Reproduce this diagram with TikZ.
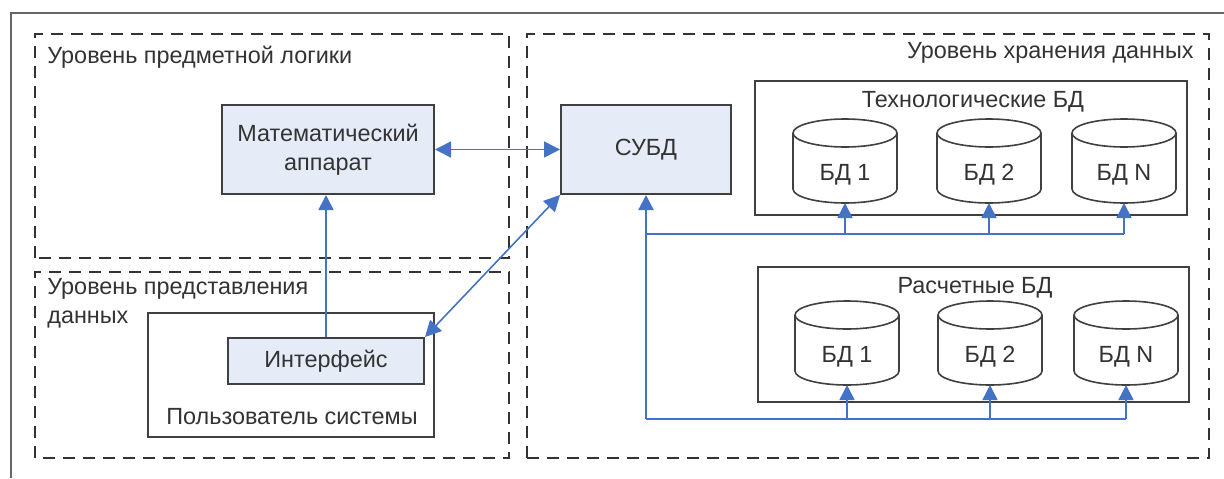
\documentclass[tikz,border=0pt]{standalone}
\usepackage{fontspec}
\setmainfont{Liberation Sans}
\usetikzlibrary{arrows.meta}

\definecolor{boxfill}{RGB}{229,235,247}
\definecolor{linkblue}{RGB}{68,114,196}

\begin{document}
\begin{tikzpicture}[x=0.5pt, y=0.5pt,
    txt/.style={font=\fontsize{11.7}{14.5}\selectfont, text=black!80},
    zone/.style={draw=black!80, line width=1.2pt, dash pattern=on 6pt off 4pt},
    block/.style={draw=black!75, line width=1pt, fill=boxfill, inner sep=0pt,
                  txt, align=center},
    panel/.style={draw=black!75, line width=1pt, fill=white, inner sep=0pt},
    dbnode/.style={inner sep=0pt, outer sep=0pt, minimum width=52pt,
                   minimum height=28pt, txt},
    dbline/.style={draw=black!75, line width=0.8pt},
    link/.style={linkblue, line width=0.8pt},
    linkarrow/.style={link, -{Triangle[length=7.5pt, width=7.5pt]}},
    linkboth/.style={link, {Triangle[length=8pt, width=8pt]}-{Triangle[length=8pt, width=8pt]}},
    bus/.style={linkblue, line width=1.1pt},
]
\useasboundingbox (0,0) rectangle (1224,478);

% Outer frame (cut off at the right and bottom)
\draw[black!60, line width=1pt] (11,0) -- (11,465) -- (1224,465);

% Levels
\draw[zone] (35,220) rectangle (509,444);
\draw[zone] (35,20) rectangle (509,206);
\draw[zone] (527,20) rectangle (1209,444);
\node[txt, anchor=west, inner sep=0pt] (lvlLogic) at (47,421) {Уровень предметной логики};
\node[txt, anchor=west, inner sep=0pt, align=left] (lvlView) at (47,175) {Уровень представления\\данных};
\node[txt, anchor=east, inner sep=0pt] (lvlStore) at (1194,425) {Уровень хранения данных};

% Blocks
\node[block, minimum width=106pt, minimum height=44.5pt] (math) at (328,328.5) {Математический\\аппарат};
\node[block, minimum width=85pt, minimum height=44.5pt] (dbms) at (646,328.5) {СУБД};
\node[panel, minimum width=143pt, minimum height=62pt] (user) at (291,103) {};
\node[txt] (userLbl) at (292,61) {Пользователь системы};
\node[block, minimum width=98pt, minimum height=23pt] (iface) at (326,117) {Интерфейс};

% Database groups
\node[panel, minimum width=216pt, minimum height=67pt] (techGrp) at (971,330) {};
\node[txt] (techLbl) at (973,376) {Технологические БД};
\node[panel, minimum width=215.5pt, minimum height=67.5pt] (calcGrp) at (973.5,143.5) {};
\node[txt] (calcLbl) at (975,190) {Расчетные БД};

% Databases (text sits in the body, cylinder drawn round it)
\node[dbnode] (t1) at (845,303) {БД 1};
\node[dbnode] (t2) at (989,303) {БД 2};
\node[dbnode] (tN) at (1124,303) {БД N};
\node[dbnode] (r1) at (847,121) {БД 1};
\node[dbnode] (r2) at (990,121) {БД 2};
\node[dbnode] (rN) at (1126,121) {БД N};
\foreach \n in {t1,t2,tN,r1,r2,rN}
  \draw[dbline] ([yshift=7pt]\n.north west) -- ([yshift=7pt]\n.south west)
      arc[start angle=180, end angle=360, x radius=26pt, y radius=7pt]
      -- ([yshift=7pt]\n.north east)
    ([yshift=7pt]\n.north) ellipse [x radius=26pt, y radius=7pt];

% Links
\draw[linkboth] (math.east) -- (dbms.west);
\draw[linkarrow] (iface.north) -- (iface.north |- math.south);
\draw[linkboth] (dbms.south west) -- (iface.north east);

% Bus from the DBMS to both groups
\coordinate (busT) at (646,244);
\coordinate (busB) at (646,59);
\draw[bus, -{Triangle[length=7.5pt, width=7.5pt]}] (busB) -- (dbms.south);
\draw[bus] (busT) -- (busT -| tN.south);
\draw[bus] (busB) -- (busB -| rN.south);
\foreach \n in {t1,t2,tN} \draw[linkarrow] (busT -| \n.south) -- (\n.south);
\foreach \n in {r1,r2,rN} \draw[linkarrow] (busB -| \n.south) -- (\n.south);
\end{tikzpicture}
\end{document}
